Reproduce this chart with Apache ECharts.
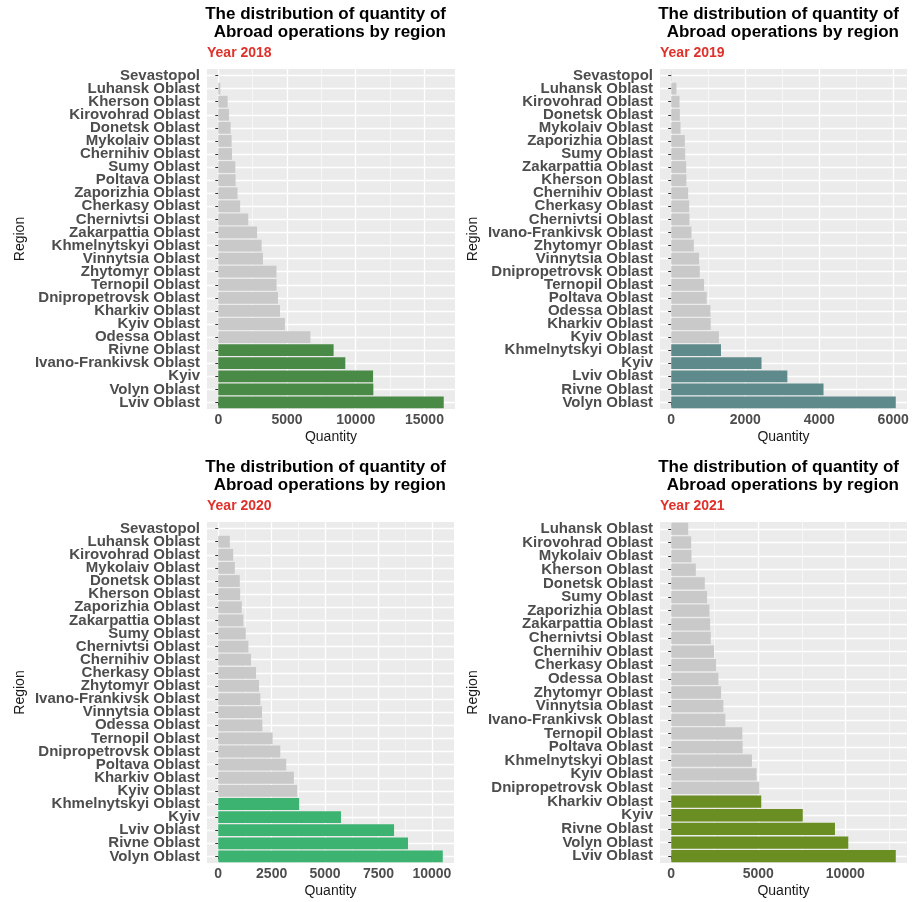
<!DOCTYPE html>
<html>
<head>
<meta charset="utf-8">
<title>Abroad operations by region</title>
<script src="https://cdn.jsdelivr.net/npm/echarts@6/dist/echarts.min.js"></script>
<style>
  html, body { margin: 0; padding: 0; background: #fff; }
  #chart { width: 913px; height: 902px; }
</style>
</head>
<body>
<div id="chart"></div>
<script>
// regions are listed top to bottom, as they appear in each panel
const regions2018 = ['Sevastopol', 'Luhansk Oblast', 'Kherson Oblast', 'Kirovohrad Oblast', 'Donetsk Oblast',
  'Mykolaiv Oblast', 'Chernihiv Oblast', 'Sumy Oblast', 'Poltava Oblast', 'Zaporizhia Oblast', 'Cherkasy Oblast',
  'Chernivtsi Oblast', 'Zakarpattia Oblast', 'Khmelnytskyi Oblast', 'Vinnytsia Oblast', 'Zhytomyr Oblast',
  'Ternopil Oblast', 'Dnipropetrovsk Oblast', 'Kharkiv Oblast', 'Kyiv Oblast', 'Odessa Oblast', 'Rivne Oblast',
  'Ivano-Frankivsk Oblast', 'Kyiv', 'Volyn Oblast', 'Lviv Oblast'];
const values2018 = [0, 150, 680, 780, 900, 970, 1000, 1240, 1260, 1400, 1590, 2180, 2820, 3150, 3250, 4230,
  4240, 4340, 4490, 4850, 6700, 8390, 9240, 11260, 11280, 16400];

const regions2019 = ['Sevastopol', 'Luhansk Oblast', 'Kirovohrad Oblast', 'Donetsk Oblast', 'Mykolaiv Oblast',
  'Zaporizhia Oblast', 'Sumy Oblast', 'Zakarpattia Oblast', 'Kherson Oblast', 'Chernihiv Oblast', 'Cherkasy Oblast',
  'Chernivtsi Oblast', 'Ivano-Frankivsk Oblast', 'Zhytomyr Oblast', 'Vinnytsia Oblast', 'Dnipropetrovsk Oblast',
  'Ternopil Oblast', 'Poltava Oblast', 'Odessa Oblast', 'Kharkiv Oblast', 'Kyiv Oblast', 'Khmelnytskyi Oblast',
  'Kyiv', 'Lviv Oblast', 'Rivne Oblast', 'Volyn Oblast'];
const values2019 = [15, 140, 224, 233, 251, 368, 377, 404, 410, 457, 484, 493, 547, 610, 753, 771,
  888, 960, 1060, 1067, 1290, 1345, 2440, 3139, 4117, 6070];

const regions2020 = ['Sevastopol', 'Luhansk Oblast', 'Kirovohrad Oblast', 'Mykolaiv Oblast', 'Donetsk Oblast',
  'Kherson Oblast', 'Zaporizhia Oblast', 'Zakarpattia Oblast', 'Sumy Oblast', 'Chernivtsi Oblast', 'Chernihiv Oblast',
  'Cherkasy Oblast', 'Zhytomyr Oblast', 'Ivano-Frankivsk Oblast', 'Vinnytsia Oblast', 'Odessa Oblast',
  'Ternopil Oblast', 'Dnipropetrovsk Oblast', 'Poltava Oblast', 'Kharkiv Oblast', 'Kyiv Oblast',
  'Khmelnytskyi Oblast', 'Kyiv', 'Lviv Oblast', 'Rivne Oblast', 'Volyn Oblast'];
const values2020 = [0, 543, 699, 776, 1009, 1025, 1102, 1180, 1289, 1413, 1537, 1770, 1910, 1972, 2050, 2065,
  2547, 2904, 3183, 3540, 3696, 3789, 5745, 8230, 8882, 10510];

const regions2021 = ['Luhansk Oblast', 'Kirovohrad Oblast', 'Mykolaiv Oblast', 'Kherson Oblast', 'Donetsk Oblast',
  'Sumy Oblast', 'Zaporizhia Oblast', 'Zakarpattia Oblast', 'Chernivtsi Oblast', 'Chernihiv Oblast',
  'Cherkasy Oblast', 'Odessa Oblast', 'Zhytomyr Oblast', 'Vinnytsia Oblast', 'Ivano-Frankivsk Oblast',
  'Ternopil Oblast', 'Poltava Oblast', 'Khmelnytskyi Oblast', 'Kyiv Oblast', 'Dnipropetrovsk Oblast',
  'Kharkiv Oblast', 'Kyiv', 'Rivne Oblast', 'Volyn Oblast', 'Lviv Oblast'];
const values2021 = [973, 1145, 1164, 1412, 1927, 2061, 2195, 2233, 2271, 2462, 2576, 2710, 2863, 2996, 3111,
  4084, 4103, 4637, 4905, 5057, 5172, 7557, 9408, 10172, 12901];

// x axis tick labels (major) and minor grid positions
const ticks2018 = [0, 5000, 10000, 15000];
const minor2018 = [2500, 7500, 12500];
const ticks2019 = [0, 2000, 4000, 6000];
const minor2019 = [1000, 3000, 5000];
const ticks2020 = [0, 2500, 5000, 7500, 10000];
const minor2020 = [1250, 3750, 6250, 8750];
const ticks2021 = [0, 5000, 10000];
const minor2021 = [2500, 7500, 12500];

const FONT = "'Liberation Sans', Arial, Helvetica, sans-serif";
const GREY_BAR = '#c9c9c9';
const TOP_N = 5;

const panels = [
  { year: '2018', regions: regions2018, values: values2018, ticks: ticks2018, minor: minor2018, color: '#4a8a47',
    left: 207, top: 69, width: 248, height: 340, titleRight: 446, titleTop: 5, subTop: 46 },
  { year: '2019', regions: regions2019, values: values2019, ticks: ticks2019, minor: minor2019, color: '#5f8a8b',
    left: 660, top: 69, width: 247, height: 340, titleRight: 899, titleTop: 5, subTop: 46 },
  { year: '2020', regions: regions2020, values: values2020, ticks: ticks2020, minor: minor2020, color: '#3cb371',
    left: 207, top: 522, width: 247, height: 341, titleRight: 446, titleTop: 458, subTop: 499 },
  { year: '2021', regions: regions2021, values: values2021, ticks: ticks2021, minor: minor2021, color: '#6b8e23',
    left: 660, top: 522, width: 247, height: 341, titleRight: 899, titleTop: 458, subTop: 499 },
];

const option = {
  backgroundColor: '#fff',
  animation: false,
  title: [],
  grid: [],
  xAxis: [],
  yAxis: [],
  series: [],
};

panels.forEach((p, i) => {
  const n = p.regions.length;
  const top = Math.max(...p.values);
  // ggplot style 5% padding on both ends of the value axis
  const lo = -0.05 * top;
  const hi = 1.05 * top;
  const step = p.ticks[1] - p.ticks[0];
  const centers = p.regions.map((_, k) => k);

  option.title.push({
    text: 'The distribution of quantity of\nAbroad operations by region',
    left: p.titleRight,
    top: p.titleTop,
    textAlign: 'right',
    padding: 0,
    textStyle: { fontFamily: FONT, fontSize: 17, fontWeight: 'bold', color: '#000', lineHeight: 18 },
  });
  option.title.push({
    text: 'Year ' + p.year,
    left: p.left,
    top: p.subTop,
    padding: 0,
    textStyle: { fontFamily: FONT, fontSize: 14, fontWeight: 'bold', color: '#e0302a' },
  });

  option.grid.push({
    left: p.left,
    top: p.top,
    width: p.width,
    height: p.height,
    show: true,
    backgroundColor: '#ebebeb',
    borderWidth: 0,
    outerBoundsMode: 'none',
  });

  // quantity axis: labels, ticks, major grid lines
  option.xAxis.push({
    gridIndex: i,
    type: 'value',
    min: lo,
    max: hi,
    minInterval: step,
    maxInterval: step,
    name: 'Quantity',
    nameLocation: 'middle',
    nameGap: 21,
    nameTextStyle: { fontFamily: FONT, fontSize: 14, color: '#1a1a1a' },
    axisLine: { show: false },
    axisTick: { show: true, length: 3, lineStyle: { color: '#333', width: 1 }, customValues: p.ticks },
    axisLabel: {
      customValues: p.ticks,
      margin: 4,
      fontFamily: FONT,
      fontSize: 14,
      fontWeight: 'bold',
      color: '#4d4d4d',
      formatter: (v) => String(v),
    },
    splitLine: { show: true, lineStyle: { color: '#fff', width: 1.3 } },
  });
  // minor vertical grid lines
  option.xAxis.push({
    gridIndex: i,
    type: 'value',
    min: lo,
    max: hi,
    minInterval: step / 2,
    maxInterval: step / 2,
    axisLine: { show: false },
    axisTick: { show: false, customValues: p.minor },
    axisLabel: { show: false },
    splitLine: { show: true, lineStyle: { color: '#fff', width: 0.6 } },
  });

  option.yAxis.push({
    gridIndex: i,
    type: 'category',
    data: p.regions,
    inverse: true,
    name: 'Region',
    nameLocation: 'middle',
    nameRotate: 90,
    nameGap: 180,
    nameTextStyle: { fontFamily: FONT, fontSize: 14, color: '#1a1a1a' },
    axisLine: { show: false },
    axisTick: { show: true, interval: 0, alignWithLabel: true, length: 3, lineStyle: { color: '#333', width: 1 } },
    axisLabel: { interval: 0, margin: 7, fontFamily: FONT, fontSize: 15, fontWeight: 'bold', color: '#4d4d4d' },
    splitLine: { show: false },
  });
  // horizontal grid lines through category centres
  option.yAxis.push({
    gridIndex: i,
    type: 'value',
    min: -0.5,
    max: n - 0.5,
    minInterval: 1,
    maxInterval: 1,
    axisLine: { show: false },
    axisTick: { show: false, customValues: centers },
    axisLabel: { show: false },
    splitLine: { show: true, lineStyle: { color: '#fff', width: 1.3 } },
  });

  option.series.push({
    type: 'bar',
    xAxisIndex: 2 * i,
    yAxisIndex: 2 * i,
    data: p.values,
    barCategoryGap: '10%',
    silent: true,
    itemStyle: { color: (d) => (d.dataIndex >= n - TOP_N ? p.color : GREY_BAR) },
  });
});

const chart = echarts.init(document.getElementById('chart'), null, { renderer: 'canvas' });
chart.setOption(option);
window.addEventListener('resize', () => chart.resize());
</script>
</body>
</html>
